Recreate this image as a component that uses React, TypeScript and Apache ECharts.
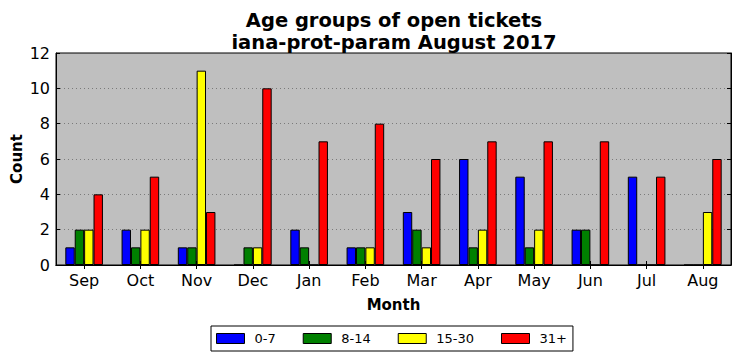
import React, { useEffect, useRef } from "react";
import * as echarts from "echarts";

const months = ["Sep", "Oct", "Nov", "Dec", "Jan", "Feb", "Mar", "Apr", "May", "Jun", "Jul", "Aug"];
const age0to7 = [1, 2, 1, 0, 2, 1, 3, 6, 5, 2, 5, 0];
const age8to14 = [2, 1, 1, 1, 1, 1, 2, 1, 1, 2, 0, 0];
const age15to30 = [2, 2, 11, 1, 0, 1, 1, 2, 2, 0, 0, 3];
const age31plus = [4, 5, 3, 10, 7, 8, 6, 7, 7, 7, 5, 6];
const seriesNames = ["0-7", "8-14", "15-30", "31+"];
const seriesColors = ["#0000ff", "#008000", "#ffff00", "#ff0000"];
const yTicks = { min: 0, max: 12, interval: 2 };

const FONT = "DejaVu Sans";

export default function App() {
  const ref = useRef<HTMLDivElement>(null);
  useEffect(() => {
    if (!ref.current) return;
    const chart = echarts.init(ref.current, undefined, { renderer: "svg" });
    const data = [age0to7, age8to14, age15to30, age31plus];
    chart.setOption({
      animation: false,
      textStyle: { fontFamily: FONT },
      title: {
        text: "Age groups of open tickets\niana-prot-param August 2017",
        left: 389,
        textAlign: "center",
        top: 4,
        textStyle: { fontFamily: FONT, fontSize: 19.5, fontWeight: "bold", color: "#000", lineHeight: 22 },
      },
      legend: {
        data: seriesNames,
        left: 211,
        top: 326,
        orient: "horizontal",
        itemWidth: 28,
        itemHeight: 10,
        itemGap: 27,
        icon: "rect",
        padding: [6, 6, 6, 5],
        borderColor: "#000",
        borderWidth: 1,
        backgroundColor: "#fff",
        borderRadius: 0,
        textStyle: { fontFamily: FONT, fontSize: 13, color: "#000", padding: [0, 0, 0, 5] },
        itemStyle: { borderColor: "#000", borderWidth: 1 },
      },
      grid: {
        left: 56,
        right: 9,
        top: 53,
        bottom: 96,
        show: true,
        backgroundColor: "#bfbfbf",
        borderColor: "#000",
        borderWidth: 1,
        containLabel: false,
        outerBoundsMode: "none",
      },
      xAxis: [
        {
          type: "category",
          data: months,
          name: "Month",
          nameLocation: "middle",
          nameGap: 32,
          nameMoveOverlap: false,
          nameTextStyle: { fontFamily: FONT, fontSize: 15, fontWeight: "bold", color: "#000" },
          axisLine: { show: true, lineStyle: { color: "#000", width: 1 } },
          axisTick: { show: true, inside: true, alignWithLabel: true, length: 4, lineStyle: { color: "#000" } },
          axisLabel: { fontFamily: FONT, fontSize: 16, color: "#000", margin: 7 },
          splitLine: { show: false },
        },
        {
          type: "category",
          data: months,
          position: "top",
          axisLine: { show: true, lineStyle: { color: "#000", width: 1 } },
          axisTick: { show: true, inside: true, alignWithLabel: true, length: 4, lineStyle: { color: "#000" } },
          axisLabel: { show: false },
          splitLine: { show: false },
        },
      ],
      yAxis: [
        {
          type: "value",
          min: yTicks.min,
          max: yTicks.max,
          interval: yTicks.interval,
          name: "Count",
          nameLocation: "middle",
          nameGap: 32,
          nameMoveOverlap: false,
          nameRotate: 90,
          nameTextStyle: { fontFamily: FONT, fontSize: 15, fontWeight: "bold", color: "#000" },
          axisLine: { show: true, lineStyle: { color: "#000", width: 1 } },
          axisTick: { show: true, inside: true, length: 4, lineStyle: { color: "#000" } },
          axisLabel: { fontFamily: FONT, fontSize: 16, color: "#000", margin: 6 },
          splitLine: {
            show: true,
            showMinLine: false,
            showMaxLine: false,
            lineStyle: { color: "#7a7a7a", type: [1, 3], width: 1 },
          },
        },
        {
          type: "value",
          min: yTicks.min,
          max: yTicks.max,
          interval: yTicks.interval,
          position: "right",
          axisLine: { show: true, lineStyle: { color: "#000", width: 1 } },
          axisTick: { show: true, inside: true, length: 4, lineStyle: { color: "#000" } },
          axisLabel: { show: false },
          splitLine: { show: false },
        },
      ],
      series: seriesNames.map((name, i) => ({
        name,
        type: "bar",
        xAxisIndex: 0,
        yAxisIndex: 0,
        data: data[i],
        barWidth: 9.4,
        barGap: "0%",
        itemStyle: { color: seriesColors[i], borderColor: "#000", borderWidth: 1 },
      })),
    });
    return () => chart.dispose();
  }, []);
  return <div ref={ref} style={{ width: 740, height: 361, position: "absolute", left: 0, top: 0 }} />;
}
